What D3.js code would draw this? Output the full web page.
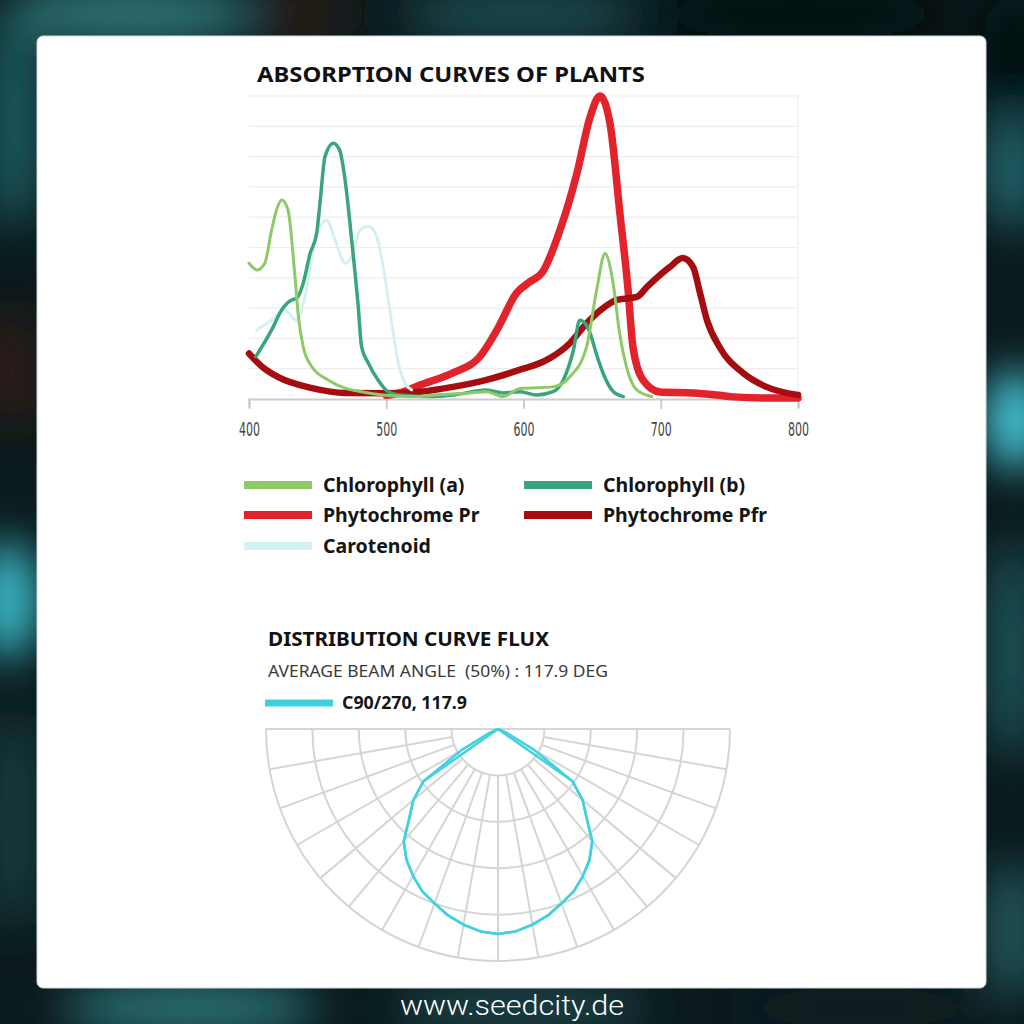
<!DOCTYPE html>
<html><head><meta charset="utf-8">
<script src="https://cdn.jsdelivr.net/npm/d3@7"></script>
<style>html,body{margin:0;padding:0;background:#0a1315;} svg{display:block} text{white-space:pre}</style>
</head><body>
<svg id="c" width="1024" height="1024"></svg>
<script>
// ---------- DATA ----------
const wavelengthTicks = [400, 500, 600, 700, 800];
const gridValues = [10, 20, 30, 40, 50, 60, 70, 80, 90, 100];

const chlorophyllA = [[400,44.8],[406,42.6],[411.5,44.8],[416.5,55.8],[420.5,63],[424,65.7],[428.4,62.4],[433.5,40.4],[436,27.2],[439.5,17.3],[445.7,10.7],[457.6,6.3],[470,3.6],[482,2.4],[500,1.2],[520,0.8],[540,1.5],[560,2],[573,2.4],[585,0.8],[597.5,3.5],[621.5,4],[634,7.4],[646,17.3],[653.3,36],[659.4,48],[665,39],[670,21.8],[675,10.7],[682.5,3],[693.4,0.8]];
const chlorophyllB = [[405,14],[416.5,22.8],[423.8,29.4],[431,32.7],[434.7,33.2],[439.5,38.2],[444.5,48],[449.3,54.7],[451.7,64.6],[455.4,80],[461.4,84.4],[466,82.2],[470,72.3],[474.8,52.5],[479.6,30.5],[482,17.3],[487,11.8],[494,6.3],[501.5,2.4],[512,1.2],[530,0.8],[548.6,1.3],[573,3],[585,2],[597.5,2.4],[609.6,1.3],[621.5,2.4],[629,6.3],[636.3,16],[641,26],[644.8,25],[648.5,21.8],[653,15],[658,8.5],[665.5,2.4],[672.7,0.8]];
const phytochromePr = [[500,1.2],[510,2],[524.6,4.6],[548.6,8.6],[568,13.9],[580.7,22.8],[595,35],[604,38.5],[614,42],[626.6,55.8],[639,74.6],[648.5,93],[655.7,100],[663,91],[670.3,61],[676,37],[679.8,17],[687,6.3],[699.5,2.3],[723.5,2],[741,1.3],[752.6,0.7],[784.7,0.3],[800,0.3]];
const phytochromePfr = [[400,15],[410,10.5],[421,7.3],[446,3.6],[470,2],[499,1.9],[524.6,2.4],[548.6,4],[573,6.3],[597,9.6],[617,12.9],[634,18.5],[646,25],[658,30],[668,32.7],[682.7,33.7],[690,37],[706.7,43.6],[716,46.5],[723.5,43.6],[728.6,35],[733.7,26],[743,17],[760,8.6],[777,4],[800,1.3]];
const carotenoid = [[405.6,22.8],[416.5,26],[426,29.4],[434.7,26],[440.8,33.8],[448,52.5],[456.6,59],[462.7,52.5],[470,44.8],[474.8,47],[481,55.8],[487,57],[493,53.6],[499,40.4],[504,25],[508.8,11.8],[513.7,5.2],[518.5,3]];

const seriesNames = ["Chlorophyll (a)", "Chlorophyll (b)", "Phytochrome Pr", "Phytochrome Pfr", "Carotenoid"];
const seriesColors = ["#8dca67", "#3aa57c", "#e2232b", "#a50d10", "#d3f1f2"];

// polar photometric distribution (angle from nadir, intensity)
const polarAngles = [0,5,10,15,20,25,30,35,40,45,50,55,60,65,70,75,80,85,90];
const c90Values  = [221,219,214,208,200,193,183,172,158,135,119,98,0,0,0,0,0,0,0];
const c0Values   = [221,219,214,208,200,193,183,172,158,135,119,98,45,12,0,0,0,0,0];
const polarRings = [50,100,150,200,250];
const polarSpokes = [0,10,20,30,40,50,60,70,80,90,100,110,120,130,140,150,160,170,180];

// ---------- DRAW ----------
const svg = d3.select("#c");
const defs = svg.append("defs");
defs.append("filter").attr("id","blur").attr("filterUnits","userSpaceOnUse")
  .attr("x",-200).attr("y",-200).attr("width",1424).attr("height",1424)
  .append("feGaussianBlur").attr("stdDeviation", 22);

// frame
svg.append("rect").attr("width",1024).attr("height",1024).attr("fill","#0b1a1d");
const glows = [
 [130,14,130,30,"#2d7477"],[300,14,50,26,"#2a1a14"],[520,14,120,26,"#1f4d51"],[800,14,150,26,"#050a0c"],
 [14,120,30,110,"#1f5a5e"],[12,370,30,60,"#2d1c14"],[8,600,30,60,"#3cc0cf"],[14,820,30,110,"#163a3d"],
 [1012,60,30,70,"#050a0c"],[1012,170,30,60,"#23626a"],[1016,420,30,50,"#48d0e0"],[1012,650,30,110,"#1c5055"],[1012,930,30,70,"#22555a"],
 [190,1008,130,24,"#2f7a80"],[520,1008,130,22,"#1e4a4e"],[860,1008,130,22,"#0c1f22"]
];
svg.append("g").attr("filter","url(#blur)").selectAll("ellipse").data(glows).join("ellipse")
  .attr("cx",d=>d[0]).attr("cy",d=>d[1]).attr("rx",d=>d[2]).attr("ry",d=>d[3]).attr("fill",d=>d[4]);
svg.append("rect").attr("x",37).attr("y",36).attr("width",949).attr("height",952).attr("rx",6)
  .attr("fill","#ffffff").attr("stroke","#cfd6d6").attr("stroke-width",1);
svg.append("text").attr("x",512).attr("y",1015).attr("text-anchor","middle")
  .attr("font-family","Roboto").attr("font-weight",300).attr("font-size",28)
  .attr("textLength",224).attr("lengthAdjust","spacingAndGlyphs")
  .attr("fill","#ffffff").text("www.seedcity.de");

// absorption chart
const x = d3.scaleLinear().domain([400,800]).range([249,798]);
const y = d3.scaleLinear().domain([0,100]).range([399,96]);

svg.append("text").attr("x",257).attr("y",82)
  .attr("font-family","Noto Sans").attr("font-weight",700).attr("font-size",21)
  .attr("textLength",388).attr("lengthAdjust","spacingAndGlyphs")
  .attr("fill","#111").text("ABSORPTION CURVES OF PLANTS");

svg.append("g").selectAll("line").data(gridValues).join("line")
  .attr("x1",x(400)).attr("x2",x(800)).attr("y1",d=>y(d)).attr("y2",d=>y(d))
  .attr("stroke","#ededed").attr("stroke-width",1.2);
svg.append("line").attr("x1",x(800)).attr("x2",x(800)).attr("y1",y(100)).attr("y2",y(0))
  .attr("stroke","#eeeeee").attr("stroke-width",1.2);

const xAxis = svg.append("g").attr("transform",`translate(0,${y(0)})`)
  .call(d3.axisBottom(x).tickValues(wavelengthTicks).tickSize(9).tickPadding(14).tickFormat(d3.format("d")));
xAxis.select(".domain").attr("stroke","#cccccc").attr("stroke-width",2);
xAxis.selectAll(".tick line").attr("stroke","#cccccc").attr("stroke-width",2).attr("stroke-linecap","round");
xAxis.selectAll(".tick text").attr("font-family","DejaVu Sans Condensed, DejaVu Sans").attr("font-stretch","condensed")
  .attr("font-size",20).attr("fill","#444").attr("textLength",21).attr("lengthAdjust","spacingAndGlyphs");

const line = d3.line().x(d=>x(d[0])).y(d=>y(d[1])).curve(d3.curveMonotoneX);
const drawOrder = [
  [phytochromePr, 2, 7.5],
  [phytochromePfr, 3, 6.5],
  [carotenoid, 4, 3],
  [chlorophyllB, 1, 3.5],
  [chlorophyllA, 0, 3]
];
svg.append("g").selectAll("path").data(drawOrder).join("path")
  .attr("d",d=>line(d[0])).attr("fill","none")
  .attr("stroke",d=>seriesColors[d[1]]).attr("stroke-width",d=>d[2])
  .attr("stroke-linejoin","round").attr("stroke-linecap","round");

// legend
const legendPos = [[244,485],[524,485],[244,515],[524,515],[244,546]];
const lg = svg.append("g").selectAll("g").data(seriesNames).join("g")
  .attr("transform",(d,i)=>`translate(${legendPos[i][0]},${legendPos[i][1]})`);
lg.append("line").attr("x1",0).attr("x2",68).attr("y1",0).attr("y2",0)
  .attr("stroke",(d,i)=>seriesColors[i]).attr("stroke-width",8);
lg.append("text").attr("x",79).attr("y",7).attr("font-family","Noto Sans").attr("font-weight",700)
  .attr("font-size",19.5).attr("fill","#151515").text(d=>d);

// distribution curve flux
svg.append("text").attr("x",268).attr("y",646)
  .attr("font-family","Noto Sans").attr("font-weight",700).attr("font-size",19.5)
  .attr("textLength",281).attr("lengthAdjust","spacingAndGlyphs")
  .attr("fill","#111").text("DISTRIBUTION CURVE FLUX");
svg.append("text").attr("x",268).attr("y",677).attr("xml:space","preserve")
  .attr("font-family","Noto Sans").attr("font-weight",400).attr("font-size",16.5)
  .attr("textLength",340).attr("lengthAdjust","spacingAndGlyphs")
  .attr("fill","#3a3a3a").text("AVERAGE BEAM ANGLE  (50%) : 117.9 DEG");
svg.append("line").attr("x1",265).attr("x2",333).attr("y1",703).attr("y2",703)
  .attr("stroke","#3fd2de").attr("stroke-width",7);
svg.append("text").attr("x",342).attr("y",709)
  .attr("font-family","Noto Sans").attr("font-weight",700).attr("font-size",17)
  .attr("textLength",125).attr("lengthAdjust","spacingAndGlyphs")
  .attr("fill","#151515").text("C90/270, 117.9");

const cx = 498, cy = 729;
const r = d3.scaleLinear().domain([0,250]).range([0,232]);
const pg = svg.append("g").attr("transform",`translate(${cx},${cy})`);
pg.selectAll("path.ring").data(polarRings).join("path").attr("class","ring")
  .attr("d",d=>{const p=d3.path(); p.arc(0,0,r(d),0,Math.PI); return p.toString();})
  .attr("fill","none").attr("stroke","#d5d5d5").attr("stroke-width",2);
pg.selectAll("line.spoke").data(polarSpokes).join("line").attr("class","spoke")
  .attr("x1",d=>r(polarRings[0])*Math.cos(d*Math.PI/180)).attr("y1",d=>r(polarRings[0])*Math.sin(d*Math.PI/180))
  .attr("x2",d=>r(250)*Math.cos(d*Math.PI/180)).attr("y2",d=>r(250)*Math.sin(d*Math.PI/180))
  .attr("stroke","#d5d5d5").attr("stroke-width",2);
pg.append("line").attr("x1",-r(250)).attr("x2",r(250)).attr("y1",0).attr("y2",0)
  .attr("stroke","#d5d5d5").attr("stroke-width",2);

function polarPoints(vals){
  const pts = [];
  for (let i = polarAngles.length-1; i >= 0; i--) pts.push([-polarAngles[i], vals[i]]);
  for (let i = 1; i < polarAngles.length; i++) pts.push([polarAngles[i], vals[i]]);
  return pts;
}
const radial = d3.lineRadial().angle(d=>Math.PI - d[0]*Math.PI/180).radius(d=>r(d[1])).curve(d3.curveLinear);
pg.selectAll("path.flux").data([c0Values, c90Values]).join("path").attr("class","flux")
  .attr("d",d=>radial(polarPoints(d))).attr("fill","none")
  .attr("stroke","#3fd2de").attr("stroke-width",2.5).attr("stroke-linejoin","round");
</script>
</body></html>
